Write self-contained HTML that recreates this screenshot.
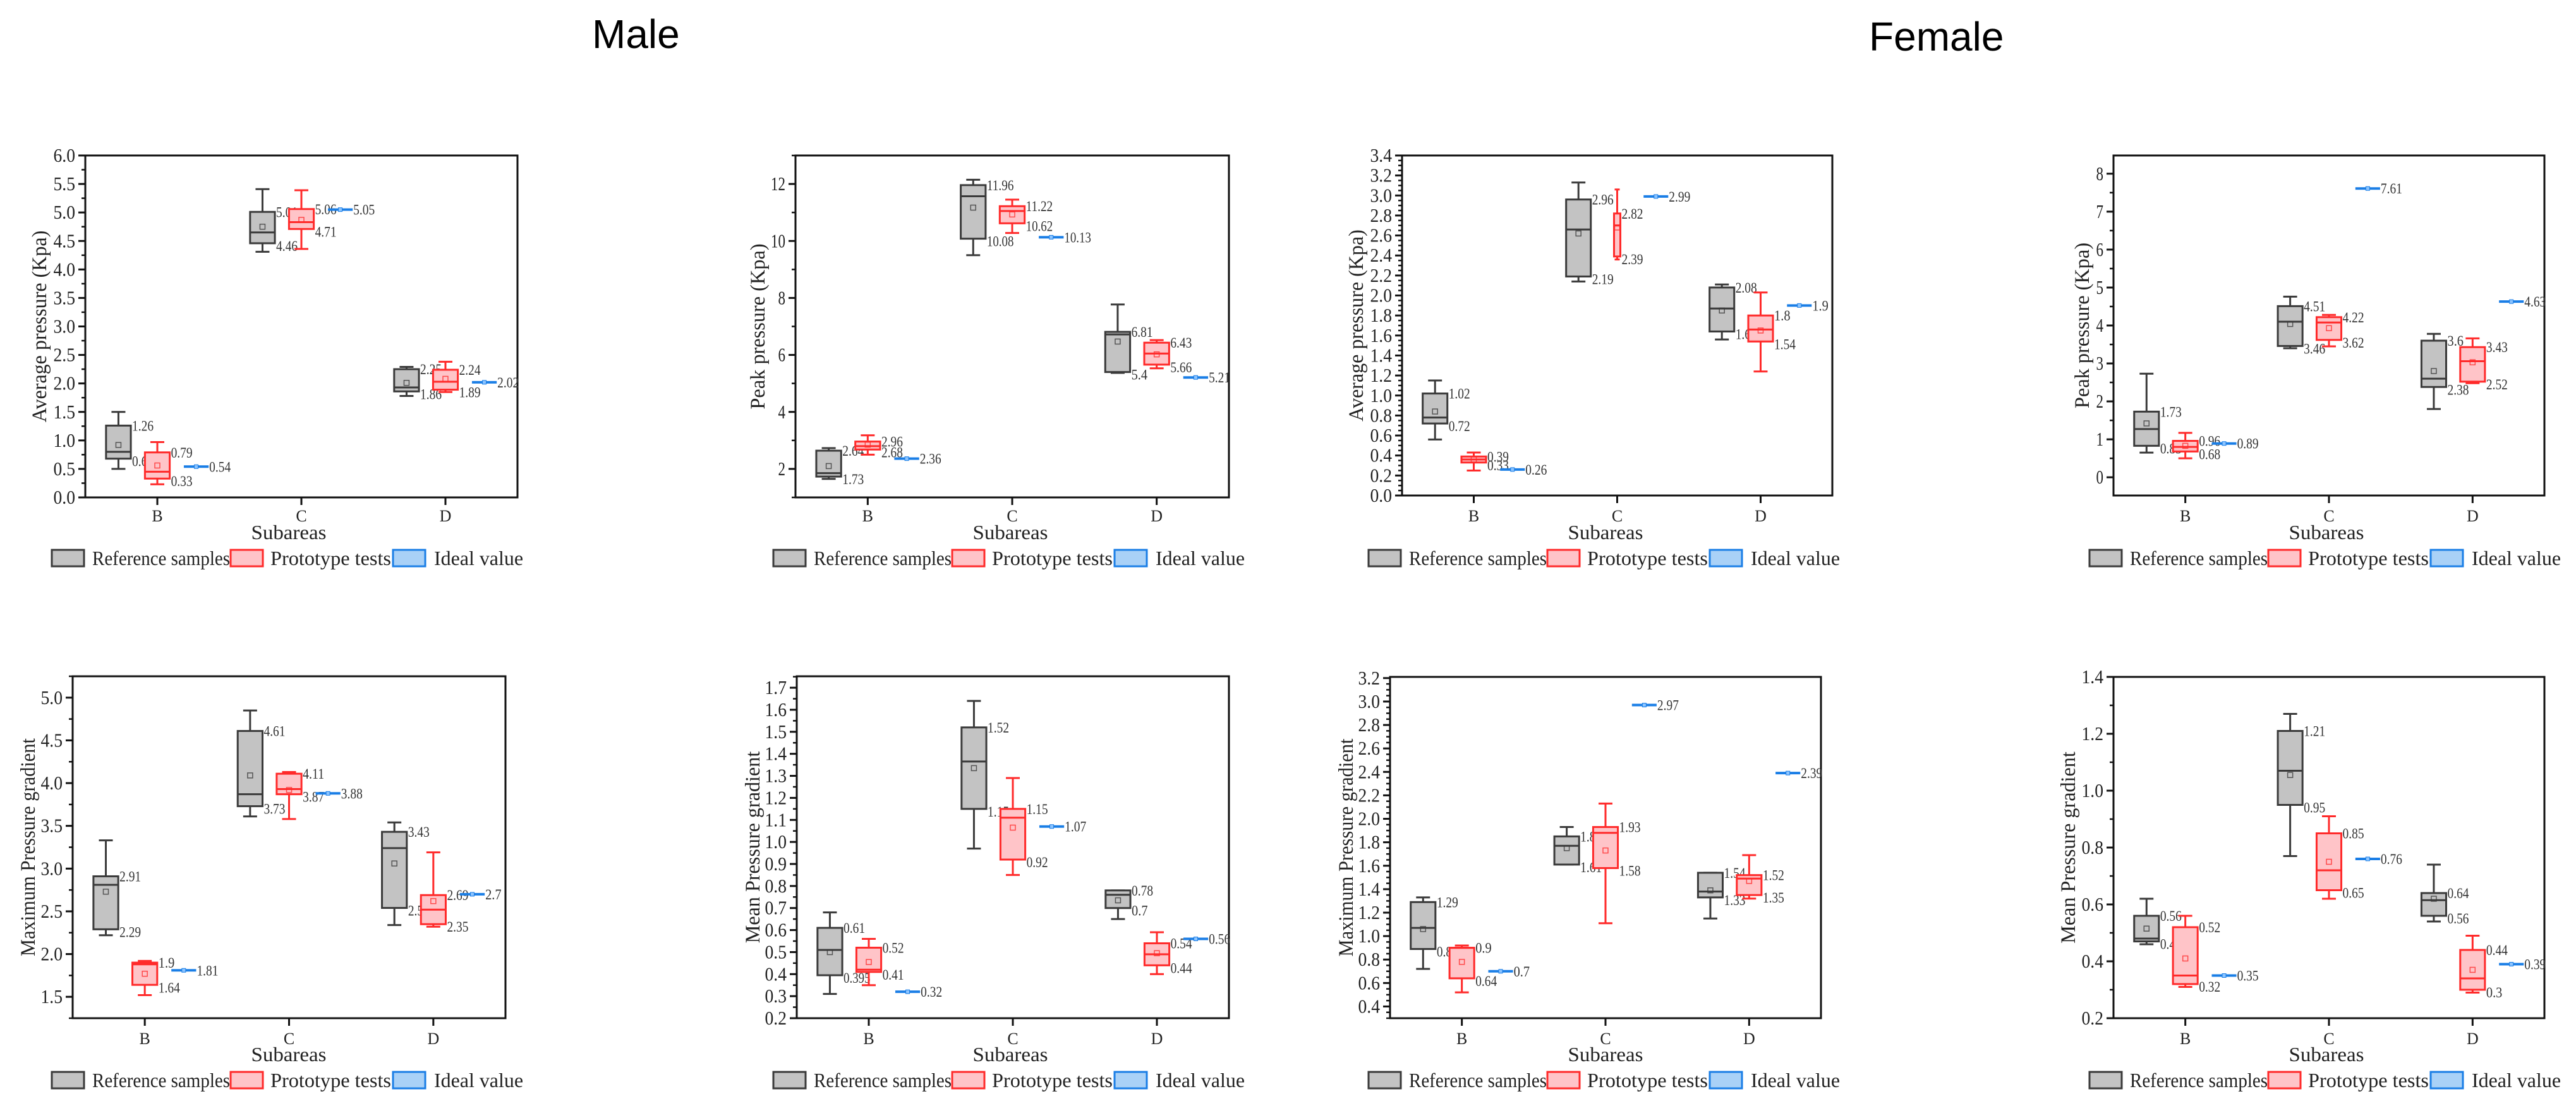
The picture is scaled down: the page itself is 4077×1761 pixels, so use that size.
<!DOCTYPE html>
<html>
<head>
<meta charset="utf-8">
<style>
html,body{margin:0;padding:0;background:#fff;}
svg{display:block;}
text{font-family:"Liberation Serif","Noto Serif CJK SC",serif;}
</style>
</head>
<body>
<svg id="fig" width="4077" height="1761" viewBox="0 0 4077 1761" xmlns="http://www.w3.org/2000/svg">
  <text x="937" y="76" font-size="64" style="font-family:'Liberation Sans',sans-serif" fill="#000">Male</text>
  <text x="2958" y="80" font-size="64" style="font-family:'Liberation Sans',sans-serif" fill="#000">Female</text>
</svg>
<script>
const categories = ["B","C","D"];

// Panel 1: male average pressure  [low, q1, median, q3, high]
const p1Ref   = [[0.5,0.68,0.8,1.26,1.5],[4.31,4.46,4.65,5.01,5.41],[1.78,1.86,1.93,2.25,2.29]];
const p1RefMean = [0.92,4.75,2.01];
const p1Proto = [[0.23,0.33,0.45,0.79,0.97],[4.36,4.71,4.83,5.06,5.39],[1.85,1.89,2.03,2.24,2.38]];
const p1ProtoMean = [0.56,4.87,2.08];
const p1Ideal = [0.54,5.05,2.02];
const p1Ticks = ["0.0","0.5","1.0","1.5","2.0","2.5","3.0","3.5","4.0","4.5","5.0","5.5","6.0"];

// Panel 2: male peak pressure
const p2Ref   = [[1.65,1.73,1.85,2.64,2.73],[9.5,10.08,11.57,11.96,12.15],[5.37,5.4,6.72,6.81,7.77]];
const p2RefMean = [2.1,11.17,6.47];
const p2Proto = [[2.5,2.68,2.8,2.96,3.18],[10.28,10.62,11.05,11.22,11.45],[5.53,5.66,6.05,6.43,6.52]];
const p2ProtoMean = [2.85,10.93,6.02];
const p2Ideal = [2.36,10.13,5.21];
const p2Ticks = ["2","4","6","8","10","12"];

// Panel 3: female average pressure
const p3Ref   = [[0.56,0.72,0.78,1.02,1.15],[2.14,2.19,2.66,2.96,3.13],[1.56,1.64,1.87,2.08,2.11]];
const p3RefMean = [0.84,2.62,1.85];
const p3Proto = [[0.25,0.33,0.36,0.39,0.43],[2.36,2.39,2.7,2.82,3.06],[1.24,1.54,1.66,1.8,2.03]];
const p3ProtoMean = [0.36,2.68,1.65];
const p3Ideal = [0.26,2.99,1.9];
const p3Ticks = ["0.0","0.2","0.4","0.6","0.8","1.0","1.2","1.4","1.6","1.8","2.0","2.2","2.4","2.6","2.8","3.0","3.2","3.4"];

// Panel 4: female peak pressure
const p4Ref   = [[0.65,0.83,1.27,1.73,2.73],[3.4,3.46,4.1,4.51,4.76],[1.8,2.38,2.6,3.6,3.78]];
const p4RefMean = [1.42,4.04,2.8];
const p4Proto = [[0.5,0.68,0.8,0.96,1.17],[3.45,3.62,4.08,4.22,4.28],[2.48,2.52,3.06,3.43,3.66]];
const p4ProtoMean = [0.83,3.93,3.03];
const p4Ideal = [0.89,7.61,4.63];
const p4Ticks = ["0","1","2","3","4","5","6","7","8"];

// Panel 5: male maximum pressure gradient
const p5Ref   = [[2.22,2.29,2.81,2.91,3.33],[3.61,3.73,3.87,4.61,4.85],[2.34,2.54,3.24,3.43,3.54]];
const p5RefMean = [2.73,4.09,3.06];
const p5Proto = [[1.52,1.64,1.88,1.9,1.92],[3.58,3.87,3.93,4.11,4.13],[2.32,2.35,2.52,2.69,3.19]];
const p5ProtoMean = [1.77,3.92,2.62];
const p5Ideal = [1.81,3.88,2.7];
const p5Ticks = ["1.5","2.0","2.5","3.0","3.5","4.0","4.5","5.0"];

// Panel 6: male mean pressure gradient
const p6Ref   = [[0.31,0.395,0.51,0.61,0.68],[0.97,1.15,1.365,1.52,1.64],[0.65,0.7,0.76,0.78,0.78]];
const p6RefMean = [0.5,1.335,0.735];
const p6Proto = [[0.35,0.41,0.42,0.52,0.56],[0.85,0.92,1.11,1.15,1.29],[0.4,0.44,0.49,0.54,0.59]];
const p6ProtoMean = [0.455,1.065,0.495];
const p6Ideal = [0.32,1.07,0.56];
const p6Ticks = ["0.2","0.3","0.4","0.5","0.6","0.7","0.8","0.9","1.0","1.1","1.2","1.3","1.4","1.5","1.6","1.7"];

// Panel 7: female maximum pressure gradient
const p7Ref   = [[0.72,0.89,1.07,1.29,1.33],[1.61,1.61,1.77,1.85,1.93],[1.15,1.33,1.38,1.54,1.54]];
const p7RefMean = [1.06,1.75,1.39];
const p7Proto = [[0.52,0.64,0.9,0.9,0.92],[1.11,1.58,1.88,1.93,2.13],[1.32,1.35,1.49,1.52,1.69]];
const p7ProtoMean = [0.78,1.73,1.47];
const p7Ideal = [0.7,2.97,2.39];
const p7Ticks = ["0.4","0.6","0.8","1.0","1.2","1.4","1.6","1.8","2.0","2.2","2.4","2.6","2.8","3.0","3.2"];

// Panel 8: female mean pressure gradient
const p8Ref   = [[0.46,0.47,0.48,0.56,0.62],[0.77,0.95,1.07,1.21,1.27],[0.54,0.56,0.615,0.64,0.74]];
const p8RefMean = [0.515,1.055,0.62];
const p8Proto = [[0.31,0.32,0.35,0.52,0.56],[0.62,0.65,0.72,0.85,0.91],[0.29,0.3,0.34,0.44,0.49]];
const p8ProtoMean = [0.41,0.75,0.37];
const p8Ideal = [0.35,0.76,0.39];
const p8Ticks = ["0.2","0.4","0.6","0.8","1.0","1.2","1.4"];

const NS = "http://www.w3.org/2000/svg";
const svg = document.getElementById("fig");
function mk(tag, attrs, parent){
  const e = document.createElementNS(NS, tag);
  for (const k in attrs) e.setAttribute(k, attrs[k]);
  (parent||svg).appendChild(e);
  return e;
}
function fmt(v){ return String(+v.toFixed(3)); }

const panels = [
  {id:"male-average-pressure", L:135,R:819,T:246,B:787, ymin:0,ymax:6, minor:0.25, ticks:p1Ticks, title:"Average pressure (Kpa)", tx:-72, lx:82, row:0,
   ref:p1Ref, refMean:p1RefMean, proto:p1Proto, protoMean:p1ProtoMean, ideal:p1Ideal},
  {id:"male-peak-pressure", L:1259,R:1945,T:246,B:787, ymin:1,ymax:13, minor:1, ticks:p2Ticks, title:"Peak pressure (Kpa)", tx:-59, lx:1224, row:0,
   ref:p2Ref, refMean:p2RefMean, proto:p2Proto, protoMean:p2ProtoMean, ideal:p2Ideal},
  {id:"female-average-pressure", L:2219,R:2900,T:246,B:784, ymin:0,ymax:3.4, minor:0.05, ticks:p3Ticks, title:"Average pressure (Kpa)", tx:-72, lx:2166, row:0,
   ref:p3Ref, refMean:p3RefMean, proto:p3Proto, protoMean:p3ProtoMean, ideal:p3Ideal, narrow:[false,true,false]},
  {id:"female-peak-pressure", L:3345,R:4027,T:246,B:784, ymin:-0.48,ymax:8.48, minor:0.5, ticks:p4Ticks, title:"Peak pressure (Kpa)", tx:-49, lx:3307, row:0,
   ref:p4Ref, refMean:p4RefMean, proto:p4Proto, protoMean:p4ProtoMean, ideal:p4Ideal},
  {id:"male-maximum-pressure-gradient", L:115,R:800,T:1070,B:1611, ymin:1.25,ymax:5.25, minor:0.25, ticks:p5Ticks, title:"Maximum Pressure gradient", tx:-70, lx:82, row:1,
   ref:p5Ref, refMean:p5RefMean, proto:p5Proto, protoMean:p5ProtoMean, ideal:p5Ideal},
  {id:"male-mean-pressure-gradient", L:1261,R:1945,T:1070,B:1611, ymin:0.2,ymax:1.752, minor:0.05, ticks:p6Ticks, title:"Mean Pressure gradient", tx:-69, lx:1224, row:1,
   ref:p6Ref, refMean:p6RefMean, proto:p6Proto, protoMean:p6ProtoMean, ideal:p6Ideal},
  {id:"female-maximum-pressure-gradient", L:2200,R:2882,T:1071,B:1611, ymin:0.3,ymax:3.21, minor:0.05, ticks:p7Ticks, title:"Maximum Pressure gradient", tx:-69, lx:2166, row:1,
   ref:p7Ref, refMean:p7RefMean, proto:p7Proto, protoMean:p7ProtoMean, ideal:p7Ideal},
  {id:"female-mean-pressure-gradient", L:3345,R:4027,T:1071,B:1611, ymin:0.2,ymax:1.4, minor:0.1, ticks:p8Ticks, title:"Mean Pressure gradient", tx:-71, lx:3307, row:1,
   ref:p8Ref, refMean:p8RefMean, proto:p8Proto, protoMean:p8ProtoMean, ideal:p8Ideal}
];

panels.forEach(p => {
  const g = mk("g", {});
  
  
  const y = v => p.B - (v - p.ymin) / (p.ymax - p.ymin) * (p.B - p.T);
  const sp = (p.R - p.L) / 3;
  const cx = i => p.L + sp * (i + 0.5);

  const fr = mk("rect", {x:p.L, y:p.T, width:p.R-p.L, height:p.B-p.T, fill:"none", stroke:"#111", "stroke-width":3}, g);
  
  

  const lo = Math.ceil((p.ymin - 1e-9) / p.minor), hi = Math.floor((p.ymax + 1e-9) / p.minor);
  for (let k = lo; k <= hi; k++) {
    const v = k * p.minor;
    mk("line", {x1:p.L-6, x2:p.L, y1:y(v), y2:y(v), stroke:"#111", "stroke-width":2.5}, g);
  }
  p.ticks.forEach(t => {
    const v = parseFloat(t);
    mk("line", {x1:p.L-11, x2:p.L, y1:y(v), y2:y(v), stroke:"#111", "stroke-width":3}, g);
    const tl = mk("text", {x:p.L-16, y:y(v)+10, "font-size":31, "text-anchor":"end", fill:"#222",
      textLength:t.length*11.5, lengthAdjust:"spacingAndGlyphs"}, g);
    tl.textContent = t;
    
    
  });
  const ty = (p.T + p.B) / 2, tx = p.L + p.tx;
  const yt = mk("text", {x:tx, y:ty, "font-size":33, "text-anchor":"middle", fill:"#222",
    transform:`rotate(-90 ${tx} ${ty})`, dy:10, textLength:p.title.length*13.8, lengthAdjust:"spacingAndGlyphs"}, g);
  yt.textContent = p.title;
  
  

  const catY = p.row === 0 ? 825 : 1652;
  categories.forEach((c, i) => {
    mk("line", {x1:cx(i), x2:cx(i), y1:p.B, y2:p.B+12, stroke:"#111", "stroke-width":3}, g);
    const xl = mk("text", {x:cx(i), y:catY, "font-size":26, "text-anchor":"middle", fill:"#222"}, g);
    xl.textContent = c;
    
    
  });
  const subY = p.row === 0 ? 853 : 1679;
  const st = mk("text", {x:p.lx+375, y:subY, "font-size":32, "text-anchor":"middle", fill:"#222", textLength:119, lengthAdjust:"spacingAndGlyphs"}, g);
  st.textContent = "Subareas";
  
  

  const bw = sp * 0.172;
  function box(d, mean, off, fill, stroke, name, narrow) {
    const x = cx(d.i) + off * sp;
    const w = narrow ? 10 : bw;
    const v = d.v;
    const bg = mk("g", {}, g);
    
    
    mk("line", {x1:x, x2:x, y1:y(v[4]), y2:y(v[0]), stroke:stroke, "stroke-width":3}, bg);
    const cw = narrow ? 8 : 22;
    mk("line", {x1:x-cw/2, x2:x+cw/2, y1:y(v[4]), y2:y(v[4]), stroke:stroke, "stroke-width":3}, bg);
    mk("line", {x1:x-cw/2, x2:x+cw/2, y1:y(v[0]), y2:y(v[0]), stroke:stroke, "stroke-width":3}, bg);
    mk("rect", {x:x-w/2, y:y(v[3]), width:w, height:Math.max(1,y(v[1])-y(v[3])), fill:fill, stroke:stroke, "stroke-width":3}, bg);
    mk("line", {x1:x-w/2, x2:x+w/2, y1:y(v[2]), y2:y(v[2]), stroke:stroke, "stroke-width":3}, bg);
    mk("rect", {x:x-4, y:y(mean)-4, width:8, height:8, fill:"none", stroke:stroke, "stroke-width":1.5, opacity:0.8}, bg);
    const l3 = mk("text", {x:x+w/2+2, y:y(v[3])+8, "font-size":23, fill:"#333", textLength:fmt(v[3]).length*8.5, lengthAdjust:"spacingAndGlyphs"}, bg);
    l3.textContent = fmt(v[3]);
    
    
    const l1 = mk("text", {x:x+w/2+2, y:y(v[1])+12, "font-size":23, fill:"#333", textLength:fmt(v[1]).length*8.5, lengthAdjust:"spacingAndGlyphs"}, bg);
    l1.textContent = fmt(v[1]);
    
    
  }
  categories.forEach((c, i) => {
    box({i:i, v:p.ref[i]}, p.refMean[i], -0.27, "#c3c3c3", "#3a3a3a", "reference-box-" + c, false);
    box({i:i, v:p.proto[i]}, p.protoMean[i], 0, "#ffc4c8", "#ff2a2a", "prototype-box-" + c, p.narrow && p.narrow[i]);
    const x = cx(i) + 0.27 * sp, yy = y(p.ideal[i]);
    const ig = mk("g", {}, g);
    
    
    mk("line", {x1:x-bw/2, x2:x+bw/2, y1:yy, y2:yy, stroke:"#1a7ee6", "stroke-width":4}, ig);
    mk("rect", {x:x-3, y:yy-3, width:6, height:6, fill:"#8cc4ff", stroke:"#1a7ee6", "stroke-width":1}, ig);
    const il = mk("text", {x:x+bw/2+1, y:yy+8, "font-size":23, fill:"#333", textLength:fmt(p.ideal[i]).length*8.5, lengthAdjust:"spacingAndGlyphs"}, ig);
    il.textContent = fmt(p.ideal[i]);
    
    
  });

  const ly = p.row === 0 ? 870 : 1696;
  const X = p.lx;
  const lg = mk("g", {}, g);
  
  
  const items = [
    {dx:0, tdx:64, tw:218, fill:"#c3c3c3", stroke:"#3a3a3a", label:"Reference samples"},
    {dx:283, tdx:346, tw:191, fill:"#ffc4c8", stroke:"#ff2a2a", label:"Prototype tests"},
    {dx:540, tdx:605, tw:141, fill:"#a9d1f7", stroke:"#1a7ee6", label:"Ideal value"}
  ];
  items.forEach(it => {
    const eg = mk("g", {}, lg);
    
    
    mk("rect", {x:X+it.dx, y:ly, width:51, height:26, fill:it.fill, stroke:it.stroke, "stroke-width":3}, eg);
    const t = mk("text", {x:X+it.tdx, y:ly+24, "font-size":32, fill:"#222", textLength:it.tw, lengthAdjust:"spacingAndGlyphs"}, eg);
    t.textContent = it.label;
  });
});
</script>
</body>
</html>
